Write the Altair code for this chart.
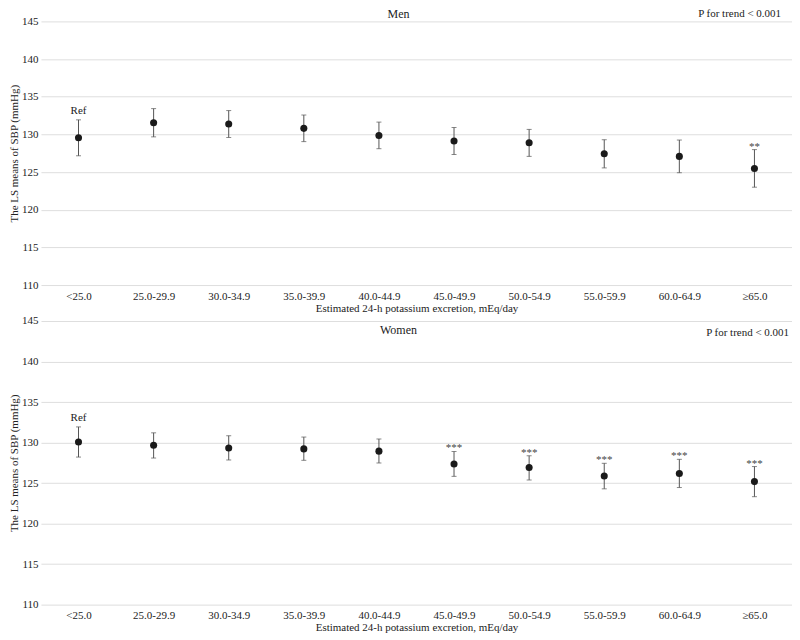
import altair as alt
import pandas as pd

categories = ["<25.0", "25.0-29.9", "30.0-34.9", "35.0-39.9", "40.0-44.9",
              "45.0-49.9", "50.0-54.9", "55.0-59.9", "60.0-64.9", "≥65.0"]

men_mean = [129.55, 131.55, 131.38, 130.80, 129.85, 129.12, 128.90, 127.42, 127.08, 125.46]
men_hi = [131.93, 133.42, 133.16, 132.57, 131.63, 130.91, 130.66, 129.29, 129.25, 127.98]
men_lo = [127.16, 129.67, 129.59, 129.04, 128.10, 127.33, 127.08, 125.55, 124.91, 122.99]
men_ann = ["Ref", "", "", "", "", "", "", "", "", "**"]

women_mean = [130.07, 129.67, 129.34, 129.22, 128.94, 127.36, 126.92, 125.87, 126.19, 125.18]
women_hi = [131.93, 131.20, 130.84, 130.68, 130.44, 128.90, 128.37, 127.44, 127.93, 127.04]
women_lo = [128.21, 128.09, 127.85, 127.81, 127.48, 125.83, 125.38, 124.29, 124.45, 123.32]
women_ann = ["Ref", "", "", "", "", "***", "***", "***", "***", "***"]

y_ticks = [110, 115, 120, 125, 130, 135, 140, 145]
y_title = "The LS means of SBP (mmHg)"
x_title = "Estimated 24-h potassium excretion, mEq/day"
p_text = "P for trend < 0.001"

FONT = "Liberation Serif"
W = 752
TXT = "#222222"
BAR = "#555555"


def panel(mean, lo, hi, ann, title, height, title_y, p_x, p_y):
    df = pd.DataFrame({"cat": categories, "mean": mean, "lo": lo, "hi": hi, "ann": ann})
    xenc = alt.X("cat:N", sort=categories,
                 scale=alt.Scale(type="point", padding=0.5),
                 axis=alt.Axis(title=x_title, labelAngle=0, ticks=False, domain=False,
                               grid=False, labelPadding=5, titlePadding=1))
    yscale = alt.Scale(domain=[110, 145], zero=False, nice=False)
    yaxis = alt.Axis(title=y_title, values=y_ticks, ticks=False, domain=False,
                     grid=True, labelPadding=3, titlePadding=2)
    base = alt.Chart(df).encode(x=xenc)
    rule = base.mark_rule(color=BAR, strokeWidth=1).encode(
        y=alt.Y("lo:Q", scale=yscale, axis=yaxis), y2="hi:Q")
    cap_hi = base.mark_tick(color=BAR, size=5, thickness=1).encode(
        y=alt.Y("hi:Q", scale=yscale, axis=yaxis))
    cap_lo = base.mark_tick(color=BAR, size=5, thickness=1).encode(
        y=alt.Y("lo:Q", scale=yscale, axis=yaxis))
    pts = base.mark_circle(size=50, color="#1a1a1a", opacity=1).encode(
        y=alt.Y("mean:Q", scale=yscale, axis=yaxis))
    ref = base.transform_filter("datum.ann == 'Ref'").mark_text(
        font=FONT, fontSize=11, color=TXT, baseline="alphabetic", dy=-6).encode(
        y=alt.Y("hi:Q", scale=yscale, axis=yaxis), text="ann:N")
    stars = base.transform_filter("datum.ann != '' && datum.ann != 'Ref'").mark_text(
        font=FONT, fontSize=11, color="#444444", baseline="alphabetic", dy=0).encode(
        y=alt.Y("hi:Q", scale=yscale, axis=yaxis), text="ann:N")
    ttl = alt.Chart(pd.DataFrame({"t": [title]})).mark_text(
        font=FONT, fontSize=12, color=TXT, baseline="middle", align="center").encode(
        x=alt.value(358), y=alt.value(title_y), text="t:N")
    ptx = alt.Chart(pd.DataFrame({"t": [p_text]})).mark_text(
        font=FONT, fontSize=11, color=TXT, baseline="middle", align="right").encode(
        x=alt.value(p_x), y=alt.value(p_y), text="t:N")
    return alt.layer(rule, cap_hi, cap_lo, pts, ref, stars, ttl, ptx).properties(
        width=W, height=height)


top = panel(men_mean, men_lo, men_hi, men_ann, "Men", 264, -7, 741, -7)
bottom = panel(women_mean, women_lo, women_hi, women_ann, "Women", 284, 9, 749, 12)

chart = alt.vconcat(top, bottom, spacing=2).properties(padding=0).configure_view(
    stroke=None
).configure_axis(
    labelFont=FONT, titleFont=FONT, labelFontSize=11, titleFontSize=11,
    labelColor=TXT, titleColor=TXT, titleFontWeight="normal",
    gridColor="#dedede", gridWidth=1
)

chart.save("out.html", embed_options={"renderer": "svg", "actions": False})
